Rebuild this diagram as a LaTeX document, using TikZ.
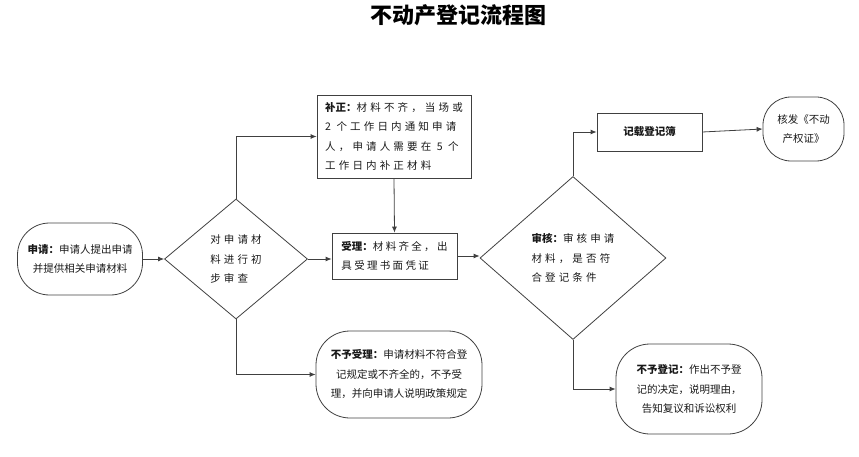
\documentclass[tikz,border=0pt]{standalone}
\usepackage{fontspec}
\setmainfont{Noto Sans CJK SC}
\newfontfamily\spacedA[LetterSpace=30]{Noto Sans CJK SC}
\newfontfamily\spacedB[LetterSpace=22]{Noto Sans CJK SC}
\usetikzlibrary{shapes.geometric,arrows.meta}
\begin{document}
\begin{tikzpicture}[x=1pt,y=-1pt,
  line/.style={draw=black!75, line width=0.8pt},
  arr/.style={line, -{Latex[length=6pt,width=5pt]}},
  txt/.style={font=\fontsize{10.5}{19.5}\selectfont, text=black!90},
  rectbox/.style={line, txt, rectangle, inner sep=0pt},
  roundbox/.style={line, txt, rectangle, inner sep=0pt},
  decision/.style={line, txt, diamond, aspect=1, inner sep=0pt}
]
\useasboundingbox (0,0) rectangle (859,457);

\node[font=\fontsize{22}{24}\selectfont\bfseries] (title) at (458,15) {不动产登记流程图};

\node[roundbox, rounded corners=32pt, minimum width=125pt, minimum height=72pt, align=center] (app) at (80,259)
  {\textbf{申请：}申请人提出申请\\并提供相关申请材料};

\node[decision, minimum width=143pt, minimum height=120pt, align=left] (d1) at (236,259)
  {\spacedA 对申请材\\\spacedA 料进行初\\\spacedA 步审查};

\node[rectbox, minimum width=154pt, minimum height=83pt, align=left] (buzheng) at (394,136.5)
  {\textbf{补正：}\spacedA 材料不齐，当场或\\\spacedA 2 个工作日内通知申请\\\spacedA 人，申请人需要在 5 个\\\spacedA 工作日内补正材料};

\node[rectbox, minimum width=125pt, minimum height=46pt, align=left] (shouli) at (394.5,256)
  {\textbf{受理：}\spacedB 材料齐全，出\\\spacedB 具受理书面凭证};

\node[roundbox, rounded corners=34pt, minimum width=166pt, minimum height=87pt, align=center] (buyushouli) at (399,374.5)
  {\textbf{不予受理：}申请材料不符合登\\记规定或不齐全的，不予受\\理，并向申请人说明政策规定};

\node[decision, minimum width=186pt, minimum height=163pt, align=left] (d2) at (573,258)
  {\textbf{审核：}\spacedA 审核申请\\\spacedA 材料，是否符\\\spacedA 合登记条件};

\node[rectbox, minimum width=105pt, minimum height=38pt, font=\fontsize{10.5}{19}\selectfont\bfseries] (jizai) at (649.5,132)
  {记载登记簿};

\node[roundbox, rounded corners=28pt, minimum width=81pt, minimum height=64pt, align=center] (hefa) at (803.5,129)
  {核发《不动\\产权证》};

\node[roundbox, rounded corners=34pt, minimum width=146pt, minimum height=90pt, align=center] (buyudengji) at (689,389)
  {\textbf{不予登记：}作出不予登\\记的决定，说明理由，\\告知复议和诉讼权利};

\draw[arr] (app.east) -- (d1.west);
\draw[arr] (d1.north) |- (buzheng.west);
\draw[arr] (d1.south) |- (buyushouli.west);
\draw[arr] (d1.east) -- (d1.east -| shouli.west);
\draw[arr] (buzheng.south) -- (shouli.north);
\draw[arr] (shouli.east) -- (shouli.east -| d2.west);
\draw[arr] (d2.north) |- (jizai.west);
\draw[arr] (jizai.east) -- (hefa.west);
\draw[arr] (d2.south) |- (buyudengji.west);
\end{tikzpicture}
\end{document}
